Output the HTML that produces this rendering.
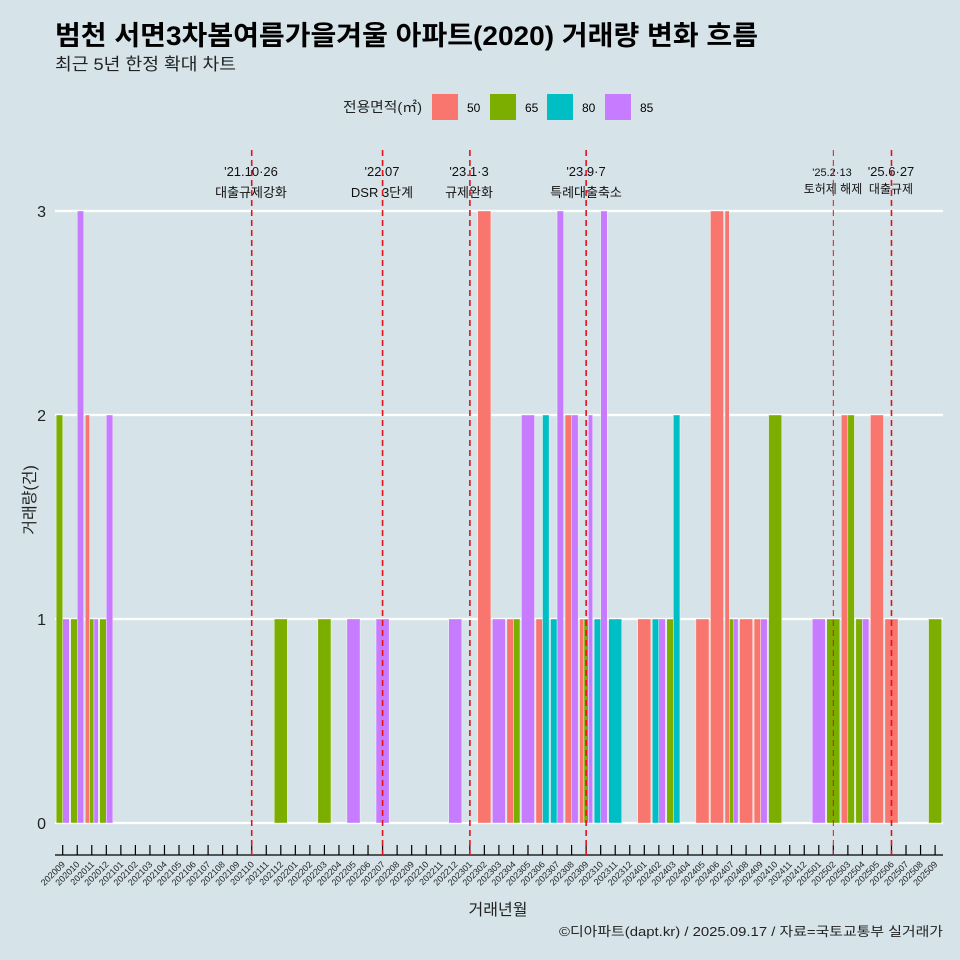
<!DOCTYPE html>
<html><head><meta charset="utf-8">
<style>
body{margin:0;background:#D6E4EA;}
svg{display:block;font-family:"Liberation Sans","Noto Sans CJK KR",sans-serif;}
</style></head><body>
<svg id="s" width="960" height="960" viewBox="0 0 960 960" xmlns="http://www.w3.org/2000/svg">
<rect width="960" height="960" fill="#D6E4EA"/>
<text x="55" y="45" font-size="27" font-weight="bold" fill="#000" textLength="703" lengthAdjust="spacingAndGlyphs">범천 서면3차봄여름가을겨울 아파트(2020) 거래량 변화 흐름</text>
<text x="55" y="70" font-size="17" fill="#222" textLength="181" lengthAdjust="spacingAndGlyphs">최근 5년 한정 확대 차트</text>
<text x="343" y="112" font-size="14" fill="#222" textLength="79" lengthAdjust="spacingAndGlyphs">전용면적(㎡)</text>
<rect x="432" y="94" width="26" height="26" fill="#F8766D"/><text x="467" y="112" font-size="12">50</text>
<rect x="490" y="94" width="26" height="26" fill="#7CAE00"/><text x="525" y="112" font-size="12">65</text>
<rect x="547" y="94" width="26" height="26" fill="#00BFC4"/><text x="582" y="112" font-size="12">80</text>
<rect x="605" y="94" width="26" height="26" fill="#C77CFF"/><text x="640" y="112" font-size="12">85</text>
<g stroke="#fff" stroke-width="2.2">
<line x1="55" x2="943" y1="823" y2="823"/><line x1="55" x2="943" y1="619" y2="619"/>
<line x1="55" x2="943" y1="415" y2="415"/><line x1="55" x2="943" y1="211" y2="211"/>
</g>
<g font-size="16" fill="#222" text-anchor="end">
<text x="46" y="829">0</text><text x="46" y="625">1</text><text x="46" y="421">2</text><text x="46" y="217">3</text>
</g>
<text transform="translate(35,500) rotate(-90)" font-size="16" text-anchor="middle" fill="#222">거래량(건)</text>
<g id="bars" stroke="#fff" stroke-width="0.4"></g>
<g id="ticks" stroke="#000" stroke-width="1.2"><line x1="55" x2="943" y1="855" y2="855"/></g>
<g font-size="13" fill="#111" text-anchor="middle">
<text x="251" y="176">'21.10·26</text><text x="251" y="197">대출규제강화</text>
<text x="382" y="176">'22.07</text><text x="382" y="197">DSR 3단계</text>
<text x="469" y="176">'23.1·3</text><text x="469" y="197">규제완화</text>
<text x="586" y="176">'23.9·7</text><text x="586" y="197">특례대출축소</text>
<text x="832" y="176" font-size="11">'25.2·13</text><text x="833" y="193" font-size="12">토허제 해제</text>
<text x="891" y="176">'25.6·27</text><text x="891" y="193" font-size="12">대출규제</text>
</g>
<g id="labels" font-size="9" fill="#222" text-anchor="end">
<text transform="translate(65.7,865) rotate(-45)">202009</text>
<text transform="translate(80.2,865) rotate(-45)">202010</text>
<text transform="translate(94.8,865) rotate(-45)">202011</text>
<text transform="translate(109.3,865) rotate(-45)">202012</text>
<text transform="translate(123.9,865) rotate(-45)">202101</text>
<text transform="translate(138.4,865) rotate(-45)">202102</text>
<text transform="translate(152.9,865) rotate(-45)">202103</text>
<text transform="translate(167.5,865) rotate(-45)">202104</text>
<text transform="translate(182.0,865) rotate(-45)">202105</text>
<text transform="translate(196.6,865) rotate(-45)">202106</text>
<text transform="translate(211.1,865) rotate(-45)">202107</text>
<text transform="translate(225.6,865) rotate(-45)">202108</text>
<text transform="translate(240.2,865) rotate(-45)">202109</text>
<text transform="translate(254.7,865) rotate(-45)">202110</text>
<text transform="translate(269.3,865) rotate(-45)">202111</text>
<text transform="translate(283.8,865) rotate(-45)">202112</text>
<text transform="translate(298.3,865) rotate(-45)">202201</text>
<text transform="translate(312.9,865) rotate(-45)">202202</text>
<text transform="translate(327.4,865) rotate(-45)">202203</text>
<text transform="translate(342.0,865) rotate(-45)">202204</text>
<text transform="translate(356.5,865) rotate(-45)">202205</text>
<text transform="translate(371.0,865) rotate(-45)">202206</text>
<text transform="translate(385.6,865) rotate(-45)">202207</text>
<text transform="translate(400.1,865) rotate(-45)">202208</text>
<text transform="translate(414.7,865) rotate(-45)">202209</text>
<text transform="translate(429.2,865) rotate(-45)">202210</text>
<text transform="translate(443.7,865) rotate(-45)">202211</text>
<text transform="translate(458.3,865) rotate(-45)">202212</text>
<text transform="translate(472.8,865) rotate(-45)">202301</text>
<text transform="translate(487.4,865) rotate(-45)">202302</text>
<text transform="translate(501.9,865) rotate(-45)">202303</text>
<text transform="translate(516.4,865) rotate(-45)">202304</text>
<text transform="translate(531.0,865) rotate(-45)">202305</text>
<text transform="translate(545.5,865) rotate(-45)">202306</text>
<text transform="translate(560.1,865) rotate(-45)">202307</text>
<text transform="translate(574.6,865) rotate(-45)">202308</text>
<text transform="translate(589.1,865) rotate(-45)">202309</text>
<text transform="translate(603.7,865) rotate(-45)">202310</text>
<text transform="translate(618.2,865) rotate(-45)">202311</text>
<text transform="translate(632.8,865) rotate(-45)">202312</text>
<text transform="translate(647.3,865) rotate(-45)">202401</text>
<text transform="translate(661.8,865) rotate(-45)">202402</text>
<text transform="translate(676.4,865) rotate(-45)">202403</text>
<text transform="translate(690.9,865) rotate(-45)">202404</text>
<text transform="translate(705.5,865) rotate(-45)">202405</text>
<text transform="translate(720.0,865) rotate(-45)">202406</text>
<text transform="translate(734.5,865) rotate(-45)">202407</text>
<text transform="translate(749.1,865) rotate(-45)">202408</text>
<text transform="translate(763.6,865) rotate(-45)">202409</text>
<text transform="translate(778.2,865) rotate(-45)">202410</text>
<text transform="translate(792.7,865) rotate(-45)">202411</text>
<text transform="translate(807.2,865) rotate(-45)">202412</text>
<text transform="translate(821.8,865) rotate(-45)">202501</text>
<text transform="translate(836.3,865) rotate(-45)">202502</text>
<text transform="translate(850.9,865) rotate(-45)">202503</text>
<text transform="translate(865.4,865) rotate(-45)">202504</text>
<text transform="translate(879.9,865) rotate(-45)">202505</text>
<text transform="translate(894.5,865) rotate(-45)">202506</text>
<text transform="translate(909.0,865) rotate(-45)">202507</text>
<text transform="translate(923.6,865) rotate(-45)">202508</text>
<text transform="translate(938.1,865) rotate(-45)">202509</text>
</g>
<text x="498" y="915" font-size="16" text-anchor="middle" fill="#222">거래년월</text>
<text x="943" y="936" font-size="13" text-anchor="end" fill="#222" textLength="384" lengthAdjust="spacingAndGlyphs">©디아파트(dapt.kr) / 2025.09.17 / 자료=국토교통부 실거래가</text>
<g id="vl" stroke="#E8101A" stroke-width="1.6" stroke-dasharray="6,4"></g>
</svg>
<script>
var NS="http://www.w3.org/2000/svg";
function cx(i){return 62.7+14.54*i;}
var C={R:"#F8766D",G:"#7CAE00",C:"#00BFC4",P:"#C77CFF"};
var d=[[0,"G2P1"],[1,"G1P3"],[2,"R2G1P1"],[3,"G1P2"],[15,"G1"],[18,"G1"],[20,"P1"],[22,"P1"],[27,"P1"],[29,"R3"],[30,"P1"],[31,"R1G1"],[32,"P2"],[33,"R1C2"],[34,"C1P3"],[35,"R2P2"],[36,"R1G1P2"],[37,"C1P3"],[38,"C1"],[40,"R1"],[41,"C1P1"],[42,"G1C2"],[44,"R1"],[45,"R3"],[46,"R3G1P1"],[47,"R1"],[48,"R1P1"],[49,"G2"],[52,"P1"],[53,"G1"],[54,"R2G2"],[55,"G1P1"],[56,"R2"],[57,"R1"],[60,"G1"]];
var g=document.getElementById("bars"),W=13.1;
d.forEach(function(e){var s=e[1],n=s.length/2,w=W/n,x0=cx(e[0])-W/2;
for(var k=0;k<n;k++){var c=s[2*k],h=+s[2*k+1];var r=document.createElementNS(NS,"rect");
r.setAttribute("x",x0+k*w);r.setAttribute("width",w);r.setAttribute("y",823-204*h);r.setAttribute("height",204*h);r.setAttribute("fill",C[c]);g.appendChild(r);}});
var t=document.getElementById("ticks");
for(var i=0;i<61;i++){var l=document.createElementNS(NS,"line");l.setAttribute("x1",cx(i));l.setAttribute("x2",cx(i));l.setAttribute("y1",845);l.setAttribute("y2",855);t.appendChild(l);}
var v=document.getElementById("vl");
[[13,1.6],[22,1.6],[27.4,1.6],[36,1.6],[53,1],[57,1.6]].forEach(function(e){var l=document.createElementNS(NS,"line");var x=e[0]==27.4?469.9:cx(e[0]);
l.setAttribute("x1",x);l.setAttribute("x2",x);l.setAttribute("y1",150);l.setAttribute("y2",855);l.setAttribute("stroke-width",e[1]);v.appendChild(l);});
</script>
</body></html>
